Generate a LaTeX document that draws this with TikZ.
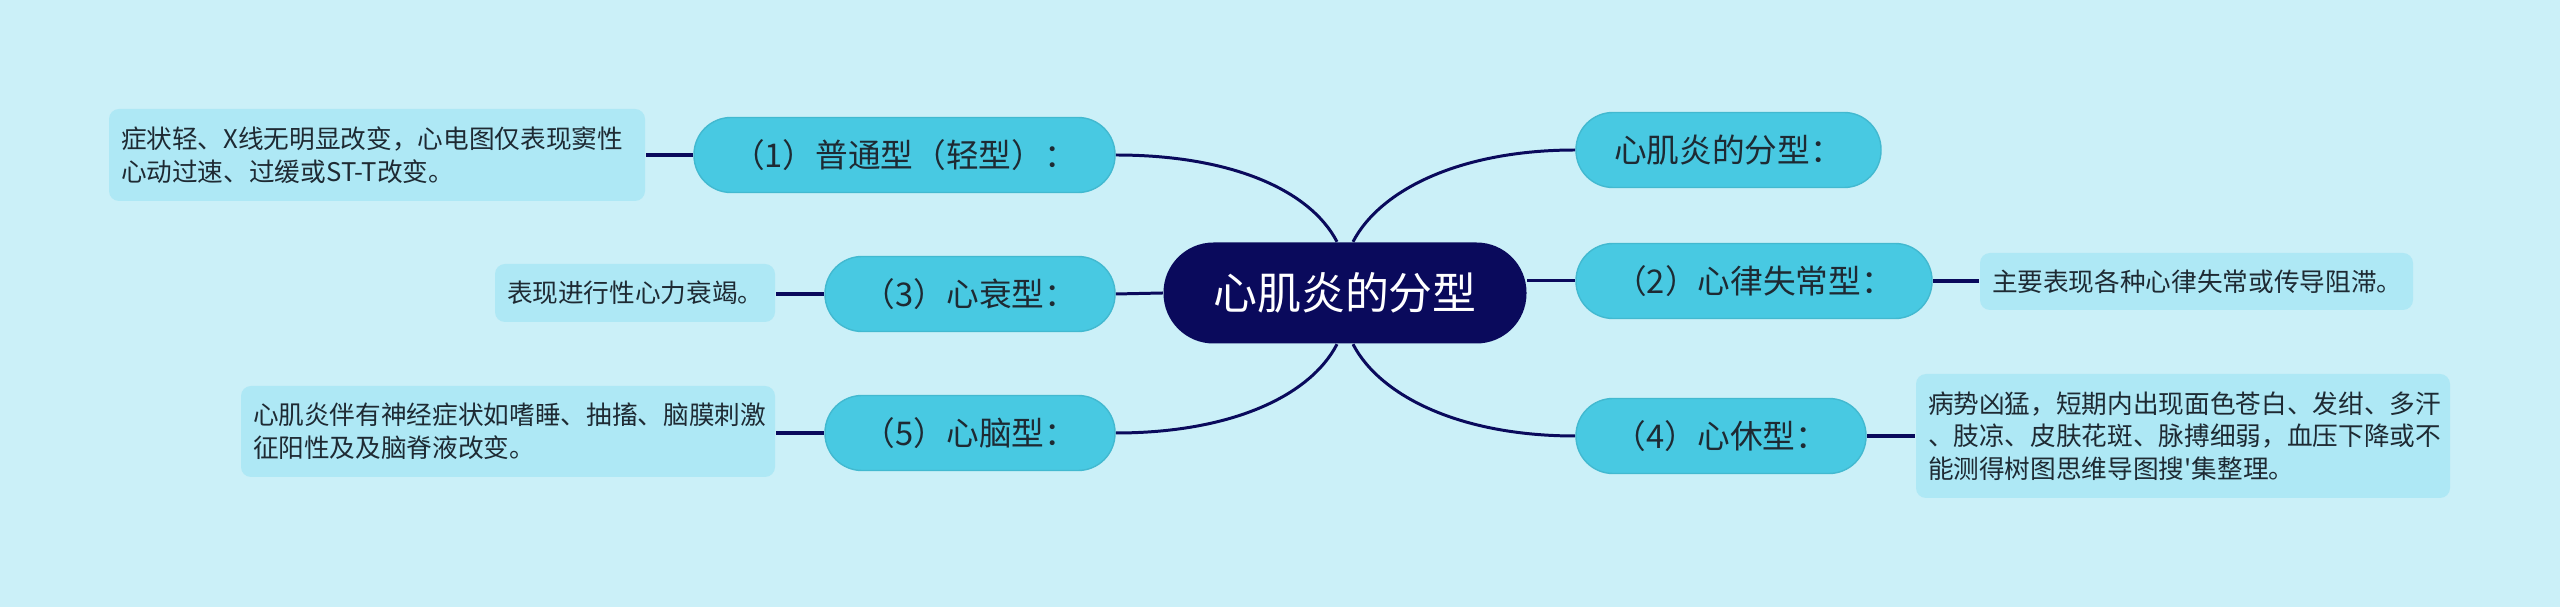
\documentclass[tikz,border=0pt]{standalone}
\usepackage{fontspec}
\newfontfamily\cjk{Noto Sans CJK SC}
\usetikzlibrary{backgrounds}

\definecolor{bgcol}{HTML}{CBF0F8}
\definecolor{navy}{HTML}{0A0A5C}
\definecolor{subcol}{HTML}{48C9E2}
\definecolor{leafcol}{HTML}{AEE8F5}
\definecolor{txtcol}{HTML}{1E2A33}

\tikzset{
  rootnode/.style={fill=navy, text=white, rounded corners=0.5cm, inner sep=0pt,
    minimum width=3.63cm, minimum height=1.01cm, font={\cjk\fontsize{12.5pt}{15pt}\selectfont}},
  subnode/.style={fill=subcol, draw=subcol!92!black, line width=0.4pt, text=txtcol,
    rounded corners=0.37cm, inner sep=0pt, minimum height=0.75cm,
    font={\cjk\fontsize{9.3pt}{11pt}\selectfont}},
  leafnode/.style={fill=leafcol, text=txtcol, rounded corners=0.1cm, align=left,
    inner xsep=0.12cm, inner ysep=0pt, font={\cjk\fontsize{7.3pt}{9.3pt}\selectfont}},
  link/.style={draw=navy, line width=0.85pt},
  leaflink/.style={draw=navy, line width=1.3pt}
}

\begin{document}
\begin{tikzpicture}
\useasboundingbox (0,0) rectangle (25.6,-6.07);

% Draw centre and branches
\node[rootnode] (root) at (13.45,-2.93) {心肌炎的分型};

\node[subnode, minimum width=3.05cm] (kinds) at (17.285,-1.50) {心肌炎的分型：};
\node[subnode, minimum width=3.56cm] (arrhy) at (17.54,-2.81) {（2）心律失常型：};
\node[subnode, minimum width=2.90cm] (shock) at (17.21,-4.36) {（4）心休型：};
\node[subnode, minimum width=4.21cm] (common) at (9.045,-1.55) {（1）普通型（轻型）：};
\node[subnode, minimum width=2.90cm] (failure) at (9.70,-2.94) {（3）心衰型：};
\node[subnode, minimum width=2.90cm] (brain) at (9.70,-4.33) {（5）心脑型：};

% Draw notes
\node[leafnode, text width=5.12cm, minimum height=0.92cm] (commonnote) at (3.77,-1.55)
  {症状轻、X线无明显改变，心电图仅表现窦性\\心动过速、过缓或ST-T改变。};
\node[leafnode, text width=2.56cm, minimum height=0.58cm] (failurenote) at (6.35,-2.93)
  {表现进行性心力衰竭。};
\node[leafnode, text width=5.10cm, minimum height=0.91cm] (brainnote) at (5.08,-4.315)
  {心肌炎伴有神经症状如嗜睡、抽搐、脑膜刺激\\征阳性及及脑脊液改变。};
\node[leafnode, text width=4.09cm, minimum height=0.57cm] (arrhynote) at (21.965,-2.815)
  {主要表现各种心律失常或传导阻滞。};
\node[leafnode, text width=5.10cm, minimum height=1.24cm] (shocknote) at (21.83,-4.36)
  {病势凶猛，短期内出现面色苍白、发绀、多汗\\、肢凉、皮肤花斑、脉搏细弱，血压下降或不\\能测得树图思维导图搜'集整理。};

\begin{scope}[on background layer]
\fill[bgcol] (0,0) rectangle (25.6,-6.07);

% Draw connectors
\draw[link] ([xshift=-0.08cm]root.north) .. controls +(-0.27,0.52) and +(1.15,0) .. (common.east);
\draw[link] ([xshift=-0.08cm]root.south) .. controls +(-0.27,-0.52) and +(1.15,0) .. (brain.east);
\draw[link] ([xshift=0.08cm]root.north) .. controls +(0.27,0.52) and +(-1.15,0) .. (kinds.west);
\draw[link] ([xshift=0.08cm]root.south) .. controls +(0.27,-0.52) and +(-1.15,0) .. (shock.west);
\draw[link] (root.west) -- (failure.east);
\draw[link] (root.east |- arrhy.west) -- (arrhy.west);

\foreach \from/\to in {common/commonnote, failure/failurenote, brain/brainnote}
  \draw[leaflink] (\from.west) -- (\from.west -| \to.east);
\foreach \from/\to in {arrhy/arrhynote, shock/shocknote}
  \draw[leaflink] (\from.east) -- (\from.east -| \to.west);
\end{scope}
\end{tikzpicture}
\end{document}
